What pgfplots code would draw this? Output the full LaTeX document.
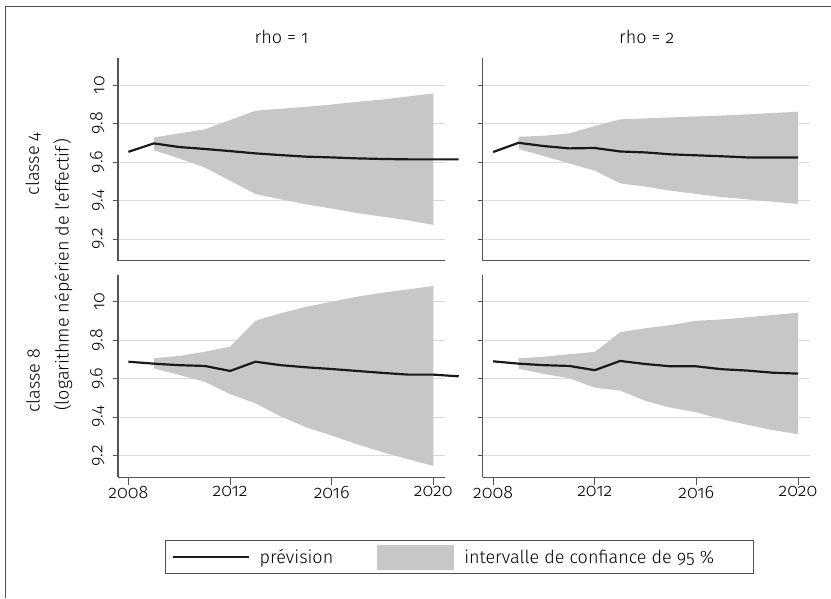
\documentclass[border=0pt]{standalone}
\usepackage{pgfplots}
\pgfplotsset{compat=1.18}
\usepackage{fontspec}
\setmainfont{Fira Sans}[Numbers=OldStyle, UprightFont=* Light]
\definecolor{axiscol}{RGB}{85,85,85}
\definecolor{gridcol}{RGB}{218,218,218}
\definecolor{cigray}{RGB}{198,199,201}
\definecolor{predcol}{RGB}{26,26,26}
\definecolor{framecol}{RGB}{80,80,80}
\newcommand{\fs}{\fontsize{18}{21}\selectfont}
\pgfplotsset{
  panel/.style={
    scale only axis, width=327pt, height=202.5pt,
    xmin=2007.59, xmax=2020.46, ymin=9.087, ymax=10.14,
    axis x line*=bottom, axis y line*=left,
    axis line style={axiscol, line width=1.3pt},
    ytick={9.2,9.4,9.6,9.8,10},
    xtick={2008,2012,2016,2020},
    ymajorgrids, grid style={gridcol, line width=0.9pt},
    major tick style={axiscol, line width=0.9pt},
    tick align=outside, major tick length=5pt,
    x tick style={/pgfplots/major tick length=8pt},
    clip=false,
    tick label style={font=\fs},
    yticklabel style={rotate=90, anchor=south},
    yticklabel shift=5pt,
    xticklabel shift=0pt,
    xticklabel style={/pgf/number format/1000 sep={}},
    /pgf/number format/assume math mode=true,
  },
  toprow/.style={xtick=\empty},
  rightcol/.style={yticklabels={}},
  ci/.style={fill=cigray, draw=none, forget plot},
  pred/.style={predcol, line width=2.2pt, line join=round, forget plot},
}
\begin{document}
\begin{tikzpicture}[x=1pt,y=1pt]
\useasboundingbox (0,0) rectangle (831,598);
% ---------------- top left: classe 4, rho = 1
\begin{axis}[panel, toprow, at={(118pt,337.3pt)}, anchor=south west]
\addplot[ci] coordinates {
(2009,9.728) (2010,9.749) (2011,9.770) (2012,9.818) (2013,9.867) (2014,9.877)
(2015,9.887) (2016,9.899) (2017,9.913) (2018,9.925) (2019,9.941) (2020,9.957)
(2020,9.273) (2019,9.297) (2018,9.316) (2017,9.335) (2016,9.358) (2015,9.380)
(2014,9.406) (2013,9.434) (2012,9.503) (2011,9.572) (2010,9.619) (2009,9.662)} -- cycle;
\addplot[pred] coordinates {
(2008,9.653) (2009,9.697) (2010,9.678) (2011,9.668) (2012,9.657) (2013,9.645)
(2014,9.636) (2015,9.628) (2016,9.624) (2017,9.619) (2018,9.616) (2019,9.614)
(2020,9.614) (2021,9.614)};
\end{axis}
% ---------------- top right: classe 4, rho = 2
\begin{axis}[panel, toprow, rightcol, at={(482.7pt,337.3pt)}, anchor=south west]
\addplot[ci] coordinates {
(2009,9.731) (2010,9.737) (2011,9.749) (2012,9.787) (2013,9.822) (2014,9.827)
(2015,9.832) (2016,9.837) (2017,9.842) (2018,9.848) (2019,9.855) (2020,9.862)
(2020,9.382) (2019,9.394) (2018,9.406) (2017,9.418) (2016,9.434) (2015,9.451)
(2014,9.472) (2013,9.489) (2012,9.555) (2011,9.593) (2010,9.631) (2009,9.668)} -- cycle;
\addplot[pred] coordinates {
(2008,9.652) (2009,9.700) (2010,9.683) (2011,9.671) (2012,9.673) (2013,9.655)
(2014,9.650) (2015,9.640) (2016,9.635) (2017,9.630) (2018,9.624) (2019,9.624)
(2020,9.624)};
\end{axis}
% ---------------- bottom left: classe 8, rho = 1
\begin{axis}[panel, at={(118pt,120.7pt)}, anchor=south west,
  legend style={at={(0.1437,-0.3936)}, anchor=west, draw=framecol, line width=1pt,
    font=\fs, inner xsep=6pt, inner ysep=4pt,
    /tikz/every odd column/.append style={column sep=8pt},
    /tikz/every even column/.append style={column sep=42pt}},
  legend columns=2, legend cell align=left]
\addlegendimage{legend image code/.code={\draw[predcol, line width=2.2pt] (0pt,0pt) -- (76pt,0pt);}}
\addlegendentry{prévision}
\addlegendimage{legend image code/.code={\fill[cigray] (0pt,-12pt) rectangle (76pt,12pt);}}
\addlegendentry{intervalle de confiance de 95 \%\hspace*{31pt}}
\addplot[ci] coordinates {
(2009,9.706) (2010,9.718) (2011,9.740) (2012,9.766) (2013,9.901) (2014,9.940)
(2015,9.974) (2016,10.000) (2017,10.026) (2018,10.047) (2019,10.064) (2020,10.082)
(2020,9.146) (2019,9.181) (2018,9.218) (2017,9.259) (2016,9.304) (2015,9.347)
(2014,9.403) (2013,9.472) (2012,9.519) (2011,9.584) (2010,9.619) (2009,9.654)} -- cycle;
\addplot[pred] coordinates {
(2008,9.688) (2009,9.678) (2010,9.670) (2011,9.666) (2012,9.640) (2013,9.688)
(2014,9.670) (2015,9.659) (2016,9.650) (2017,9.640) (2018,9.630) (2019,9.621)
(2020,9.621) (2021,9.612)};
\end{axis}
% ---------------- bottom right: classe 8, rho = 2
\begin{axis}[panel, rightcol, at={(482.7pt,120.7pt)}, anchor=south west]
\addplot[ci] coordinates {
(2009,9.706) (2010,9.714) (2011,9.727) (2012,9.739) (2013,9.841) (2014,9.862)
(2015,9.879) (2016,9.901) (2017,9.908) (2018,9.919) (2019,9.931) (2020,9.943)
(2020,9.311) (2019,9.333) (2018,9.360) (2017,9.389) (2016,9.425) (2015,9.449)
(2014,9.484) (2013,9.538) (2012,9.553) (2011,9.602) (2010,9.624) (2009,9.652)} -- cycle;
\addplot[pred] coordinates {
(2008,9.690) (2009,9.678) (2010,9.670) (2011,9.666) (2012,9.644) (2013,9.692)
(2014,9.676) (2015,9.664) (2016,9.664) (2017,9.649) (2018,9.642) (2019,9.631)
(2020,9.626)};
\end{axis}
% titles and row labels
\node[font=\fs] at (281.5,561) {rho = 1};
\node[font=\fs] at (646.7,561) {rho = 2};
\node[font=\fs, rotate=90] at (33,434) {classe 4};
\node[font=\fs, rotate=90] at (33,217) {classe 8};
\node[font=\fs, rotate=90] at (63,323) {(logarithme népérien de l’effectif)};
% outer frame (top and left edges)
\draw[framecol, line width=1pt] (5.7,0) -- (5.7,591.3) -- (831,591.3);
\end{tikzpicture}
\end{document}
